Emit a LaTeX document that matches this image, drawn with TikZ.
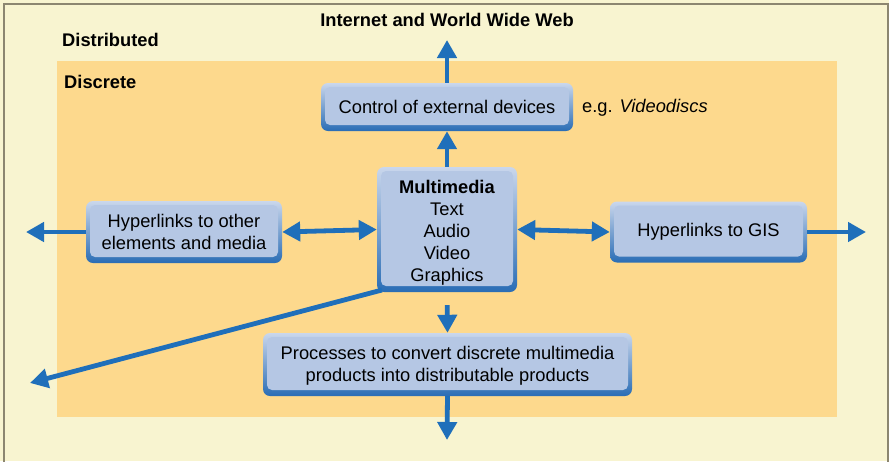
\documentclass[tikz,border=0pt]{standalone}
\usepackage{fontspec}
\setmainfont{Liberation Sans}
\usetikzlibrary{arrows.meta}
\definecolor{cream}{HTML}{F8F4D0}
\definecolor{orangebg}{HTML}{FDD98D}
\definecolor{framegray}{HTML}{8C8670}
\definecolor{arrowblue}{HTML}{1F6FBA}
\definecolor{boxin}{HTML}{B5C7E4}
\definecolor{boxtop}{HTML}{CAD7EC}
\definecolor{boxbot}{HTML}{2A6DB5}
\tikzset{
  boxnode/.style={rounded corners=7pt, top color=boxtop, bottom color=boxbot,
    inner sep=0pt, align=center, font=\fontsize{18.3}{22}\selectfont,
    path picture={\fill[boxin, rounded corners=5pt]
      ([shift={(4pt,-4pt)}]path picture bounding box.north west) rectangle
      ([shift={(-4pt,6pt)}]path picture bounding box.south east);}},
  conn/.style={draw=arrowblue, line width=4.8pt,
    -{Triangle[length=18pt,width=19pt]}},
  biconn/.style={draw=arrowblue, line width=4.8pt,
    {Triangle[length=18pt,width=19pt]}-{Triangle[length=18pt,width=19pt]}},
  lbl/.style={font=\fontsize{18.3}{22}\selectfont, inner sep=0pt},
  blbl/.style={font=\fontsize{18.3}{22}\selectfont\bfseries, inner sep=0pt}
}
\begin{document}
\begin{tikzpicture}[x=1pt,y=-1pt]
\clip (0,0) rectangle (889,461);
\fill[cream] (0,0) rectangle (889,461);
\draw[framegray, line width=1.5pt] (4,470) -- (4,4) -- (888,4) -- (888,470);
\fill[orangebg] (57,61) rectangle (837,417);

\node[blbl] (web) at (447,20) {Internet and World Wide Web};
\node[blbl, anchor=west] (dist) at (62,40) {Distributed};
\node[blbl, anchor=west] (disc) at (64,82) {Discrete};
\node[lbl, anchor=west] (eg) at (582,108) {e.g. \textit{Videodiscs}};

\node[boxnode, minimum width=252pt, minimum height=48pt] (ctrl) at (447,107) {Control of external devices};
\node[boxnode, minimum width=140pt, minimum height=125pt] (mm) at (447,229.5) {\rule{0pt}{20pt}\textbf{Multimedia}\\Text\\Audio\\Video\\Graphics};
\node[boxnode, minimum width=196pt, minimum height=62pt] (hyp) at (184,232) {Hyperlinks to other\\elements and media};
\node[boxnode, minimum width=197pt, minimum height=61pt] (gis) at (708.5,232) {Hyperlinks to GIS};
\node[boxnode, minimum width=369pt, minimum height=63pt] (proc) at (447.5,364.5) {\rule{0pt}{15pt}Processes to convert discrete multimedia\\products into distributable products};

\coordinate (topend) at (447,40);
\coordinate (leftend) at (26,232);
\coordinate (rightend) at (866,232);
\coordinate (botend) at (447,440);
\coordinate (diagend) at (30,383);
\coordinate (diagstart) at (382,290);

\draw[conn] (ctrl.north) -- (topend);
\draw[conn] (mm.north) -- (ctrl.south);
\draw[biconn] (hyp.east) -- (mm.west);
\draw[biconn] (mm.east) -- (gis.west);
\draw[conn] (hyp.west) -- (leftend);
\draw[conn] (gis.east) -- (rightend);
\draw[conn, shorten <=13pt] (mm.south) -- (proc.north);
\draw[conn] (proc.south) -- (botend);
\draw[conn] (diagstart) -- (diagend);
\end{tikzpicture}
\end{document}
